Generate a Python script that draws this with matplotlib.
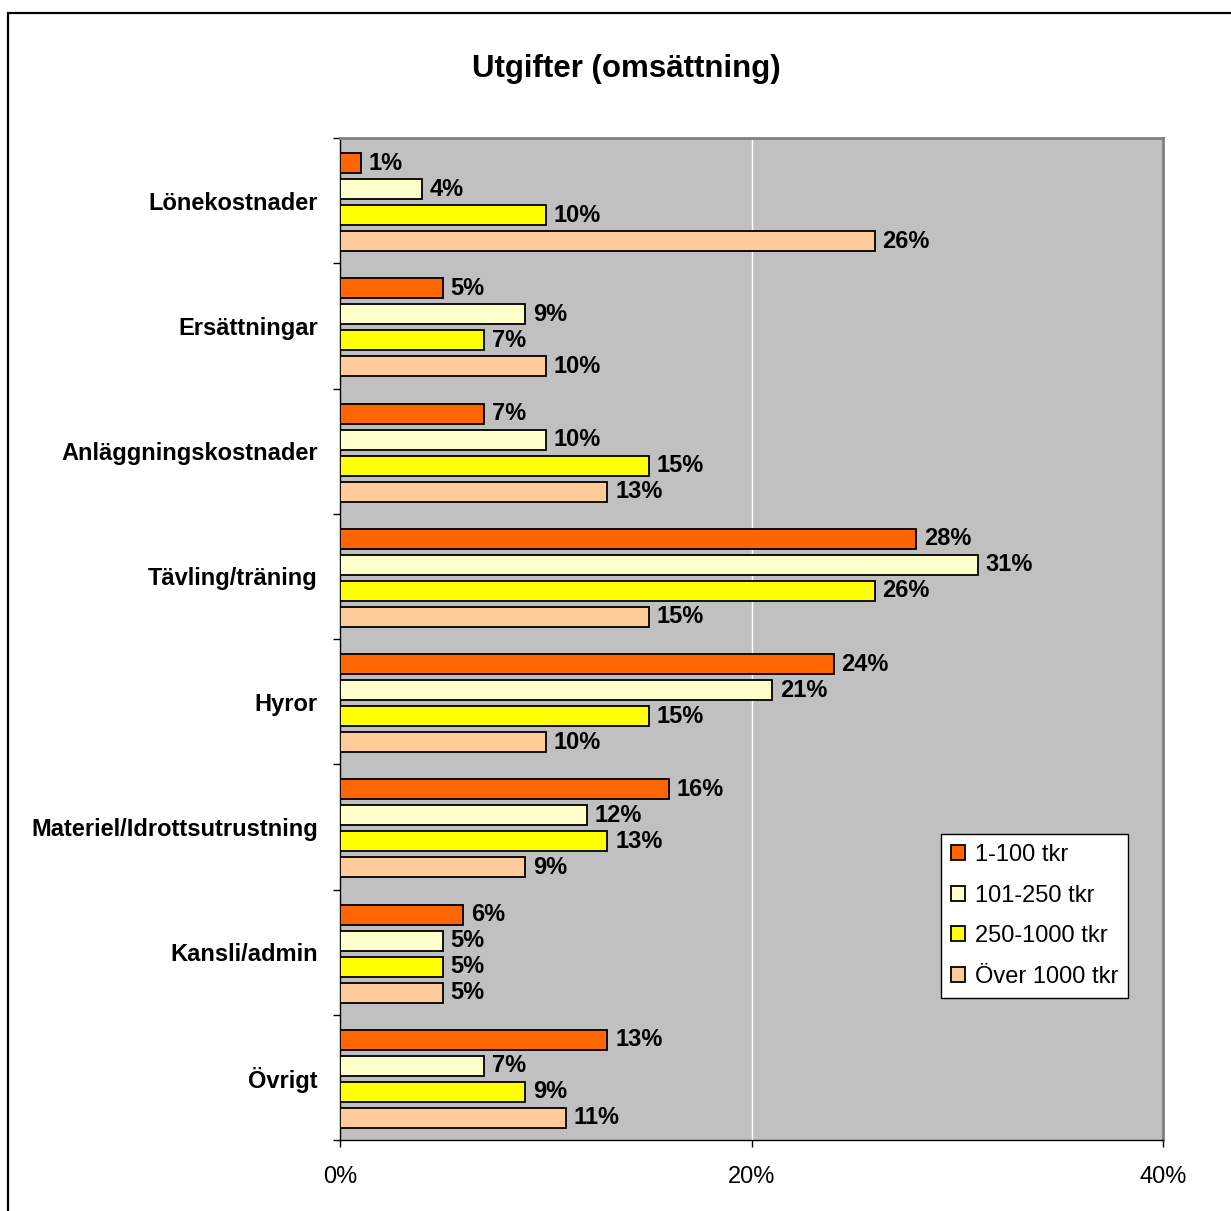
import matplotlib.pyplot as plt
from matplotlib.patches import Patch, Rectangle
from matplotlib.ticker import FixedLocator
import numpy as np

plt.rcParams['font.family'] = ['Liberation Sans', 'DejaVu Sans']

# utgiftsposter och andel per omsättningsklass (%)
kategorier = ['Lönekostnader', 'Ersättningar', 'Anläggningskostnader', 'Tävling/träning',
              'Hyror', 'Materiel/Idrottsutrustning', 'Kansli/admin', 'Övrigt']
serier = ['1-100 tkr', '101-250 tkr', '250-1000 tkr', 'Över 1000 tkr']
v_1_100 = [1, 5, 7, 28, 24, 16, 6, 13]
v_101_250 = [4, 9, 10, 31, 21, 12, 5, 7]
v_250_1000 = [10, 7, 15, 26, 15, 13, 5, 9]
v_over_1000 = [26, 10, 13, 15, 10, 9, 5, 11]
farger = ['#FF6600', '#FFFFCC', '#FFFF00', '#FFCC99']

fig = plt.figure(figsize=(12.31, 12.11), dpi=100)
ax = fig.add_axes([0.2762, 0.0586, 0.6686, 0.8274])
ax.set_facecolor('#C0C0C0')

y = np.arange(len(kategorier))
steg = 0.2076
for k, (namn, varden, f) in enumerate(zip(serier, [v_1_100, v_101_250, v_250_1000, v_over_1000], farger)):
    pos = y + (k - 1.5) * steg + 0.012
    ax.barh(pos, np.array(varden) / 100, height=0.16, color=f, edgecolor='black',
            linewidth=1.3, zorder=3)
    for p, v in zip(pos, varden):
        ax.annotate(f'{v}%', (v / 100, p), xytext=(5.5, 0), textcoords='offset points',
                    ha='left', va='center', fontsize=17, fontweight='bold', zorder=4)

ax.set_xlim(0, 0.4)
ax.set_ylim(len(kategorier) - 0.5, -0.5)
ax.set_xticks([0, 0.2, 0.4])
ax.set_xticklabels(['0%', '20%', '40%'], fontsize=17)
ax.set_yticks(y)
ax.set_yticklabels(kategorier, fontsize=17, fontweight='bold')
ax.yaxis.set_minor_locator(FixedLocator(np.arange(-0.5, len(kategorier), 1)))
ax.tick_params(axis='y', which='major', length=0, pad=16)
ax.tick_params(axis='y', which='minor', length=5, width=1, direction='out')
ax.tick_params(axis='x', length=5, width=1, direction='out', pad=14)
ax.axvline(0.2, color='white', linewidth=1, zorder=1)

for s in ['top', 'right']:
    ax.spines[s].set_color('#808080')
    ax.spines[s].set_linewidth(2)
for s in ['left', 'bottom']:
    ax.spines[s].set_color('black')
    ax.spines[s].set_linewidth(1)

handtag = [Patch(facecolor=f, edgecolor='black', linewidth=1.3) for f in farger]
leg = ax.legend(handtag, serier, loc='upper left', bbox_to_anchor=(0.730, 0.3054),
                fontsize=17, frameon=True, fancybox=False, framealpha=1,
                handlelength=0.6, handleheight=0.6, handletextpad=0.42,
                labelspacing=0.79, borderpad=0.42, borderaxespad=0)
leg.get_frame().set_edgecolor('black')
leg.get_frame().set_linewidth(1)

fig.text(0.509, 0.943, 'Utgifter (omsättning)', ha='center', va='center',
         fontsize=22.5, fontweight='bold')

# ram runt hela diagrammet
fig.patches.append(Rectangle((0.0061, -0.1), 1.2, 1.0893, transform=fig.transFigure,
                             fill=False, edgecolor='black', linewidth=1.6))

fig.savefig('out.png', dpi=100)
